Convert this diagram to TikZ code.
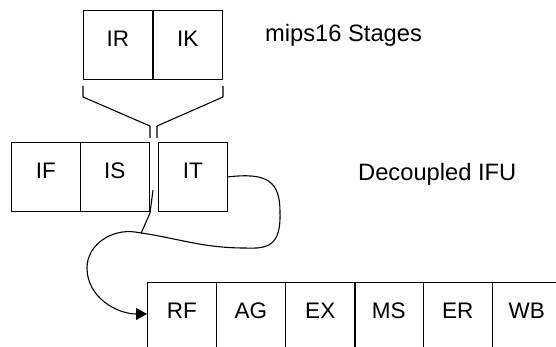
\documentclass[tikz,border=0pt]{standalone}
\usepackage{fontspec}
\setmainfont{Liberation Sans}
\usetikzlibrary{arrows.meta}
\begin{document}
\begin{tikzpicture}[x=1pt,y=-1pt,
  stage/.style={draw,line width=1pt,rectangle,inner sep=0pt,outer sep=0pt,
    minimum width=69.5pt,text height=36pt,text depth=33pt,anchor=north west,
    font=\fontsize{22.5}{22.5}\selectfont},
  lbl/.style={anchor=base west,inner sep=0pt,font=\fontsize{23.7}{23.7}\selectfont},
  wire/.style={line width=1.1pt}]
\useasboundingbox (0,0) rectangle (556,347);
\node[stage] (IR) at (83,11) {IR};
\node[stage] (IK) at (153,11) {IK};
\node[stage] (IF) at (11,143) {IF};
\node[stage] (IS) at (80,143) {IS};
\node[stage] (IT) at (158,143) {IT};
\node[stage] (RF) at (147,282) {RF};
\node[stage] (AG) at (216,282) {AG};
\node[stage] (EX) at (285.5,282) {EX};
\node[stage] (MS) at (354,282) {MS};
\node[stage] (ER) at (423,282) {ER};
\node[stage] (WB) at (492,282) {WB};
\node[lbl] (t1) at (265,42) {mips16 Stages};
\node[lbl] (t2) at (358,181) {Decoupled IFU};
% bracket
\draw[wire] (83,86) -- (83,97) -- (150,126) -- (150,138);
\draw[wire] (223,86) -- (223,97) -- (157,126) -- (157,138);
% curve
\coordinate (c1) at (280,212);
\coordinate (c2) at (245,248);
\coordinate (c3) at (135,232);
\coordinate (c4) at (87,268);
\draw[wire,-{Triangle[length=11pt,width=12pt]}] (IT.east |- 0,177)
  .. controls (268,172) and (280,182) .. (c1)
  .. controls (281,246) and (268,249) .. (c2)
  to[out=180,in=-8] (c3) to[out=172,in=90] (c4)
  to[out=-90,in=180] (RF.west |- 0,314);
\coordinate (s1) at (153,190);
\coordinate (s2) at (150,213);
\coordinate (s3) at (141,233.5);
\draw[wire] (s1) -- (s2) -- (s3);
\end{tikzpicture}
\end{document}
